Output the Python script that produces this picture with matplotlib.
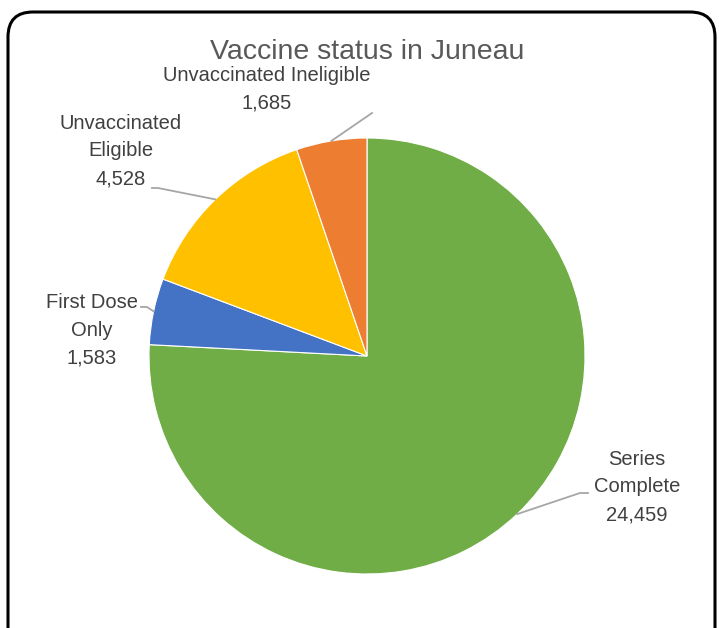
import numpy as np
import matplotlib.pyplot as plt
from matplotlib.patches import FancyBboxPatch

labels = ["Series\nComplete", "First Dose\nOnly", "Unvaccinated\nEligible", "Unvaccinated Ineligible"]
values = [24459, 1583, 4528, 1685]
colors = ["#70AD47", "#4472C4", "#FFC000", "#ED7D31"]

plt.rcParams['font.family'] = ['Liberation Sans', 'DejaVu Sans']

fig = plt.figure(figsize=(7.19, 6.28), dpi=100)

# rounded frame around the chart
frame = FancyBboxPatch((0.08, -0.3), 7.07, 6.46, boxstyle="round,pad=0,rounding_size=0.25",
                       transform=fig.dpi_scale_trans, fill=False, edgecolor="black", linewidth=2.2)
fig.patches.append(frame)

# pie centre and radius in pixels
cx, cy, r = 367, 356, 218

def to_data(px, py):
    return (px - cx) / r, (cy - py) / r

ax = fig.add_axes([0, 0, 1, 1])
wedges, _ = ax.pie(values, colors=colors, startangle=90, counterclock=False,
                   wedgeprops=dict(edgecolor="white", linewidth=0.8))
ax.set_aspect('auto')
ax.set_xlim(-cx / r, (719 - cx) / r)
ax.set_ylim((cy - 628) / r, cy / r)
ax.axis('off')

fig.text(367 / 719, 1 - 52 / 628, "Vaccine status in Juneau", ha='center', va='center',
         fontsize=20.5, color="#595959")

# label positions (px) and leader line start points (px)
text_pos = [(637, 487), (92, 330), (121, 151), (267, 89)]
leader_pts = [[(588, 493), (580, 493)], [(141, 307), (147, 307)],
              [(152, 188), (158, 188)], [(372, 113)]]

for w, lab, val, tp, lp in zip(wedges, labels, values, text_pos, leader_pts):
    ang = np.deg2rad((w.theta1 + w.theta2) / 2)
    ex, ey = np.cos(ang), np.sin(ang)
    pts = [to_data(*p) for p in lp] + [(ex, ey)]
    xs, ys = zip(*pts)
    ax.plot(xs, ys, color="#A6A6A6", linewidth=1.3)
    tx, ty = to_data(*tp)
    ax.text(tx, ty, f"{lab}\n{val:,}", ha='center', va='center', fontsize=14.5,
            color="#404040", linespacing=1.58)

fig.savefig("out.png", dpi=100)
